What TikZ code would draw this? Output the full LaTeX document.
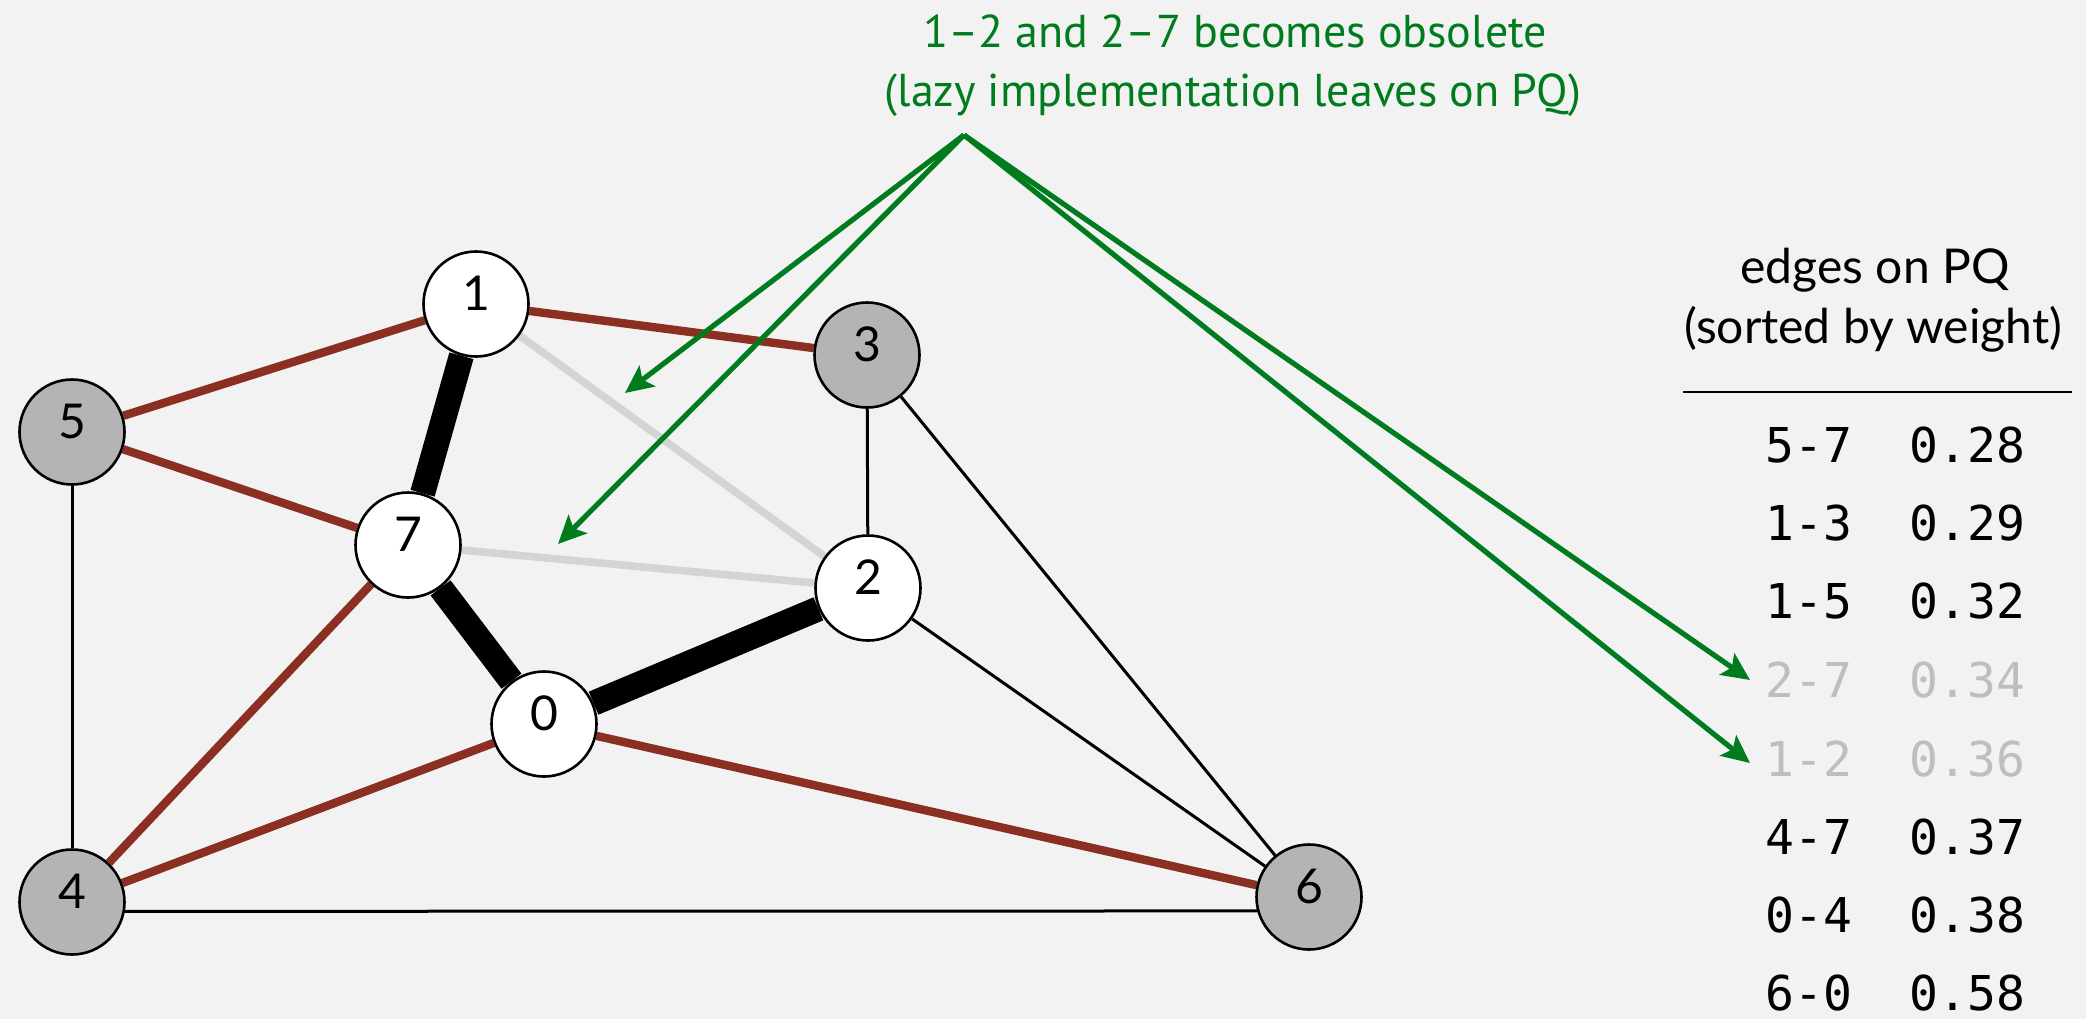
\documentclass[tikz,border=0pt]{standalone}
\usepackage{fontspec}
\setmainfont{Lato}
\newfontfamily\greenfont{PT Sans}
\newfontfamily\tablemono{DejaVu Sans Mono}
\usetikzlibrary{arrows.meta}
\pgfdeclarelayer{bglayer}
\pgfdeclarelayer{edgelayer}
\pgfsetlayers{bglayer,edgelayer,main}
\definecolor{bg}{RGB}{242,242,242}
\definecolor{mstred}{RGB}{139,47,35}
\definecolor{notegreen}{RGB}{0,124,30}
\definecolor{vgray}{RGB}{180,180,180}
\definecolor{obsgray}{RGB}{212,212,212}
\definecolor{tabgray}{RGB}{190,190,190}
\tikzset{
  vert/.style={circle, draw=black, line width=1.3pt, minimum size=52.5pt, inner sep=0pt, fill=white},
  pqvert/.style={vert, fill=vgray},
  vlabel/.style={yshift=5.5pt, font=\fontsize{24pt}{28pt}\selectfont, inner sep=0pt},
  treeedge/.style={line width=12.5pt, black},
  pqedge/.style={line width=4.2pt, mstred},
  obsedge/.style={line width=3.8pt, obsgray},
  plainedge/.style={line width=1.5pt, black},
  note/.style={text=notegreen, font=\greenfont\fontsize{23pt}{27pt}\selectfont, anchor=base, inner sep=0pt},
  notearrow/.style={notegreen, line width=2.6pt, -{Stealth[length=14pt, width=13pt, inset=3pt]}},
  tabhead/.style={font=\fontsize{24pt}{28pt}\selectfont, anchor=base, inner sep=0pt},
  tabcell/.style={font=\tablemono\fontsize{24pt}{28pt}\selectfont, anchor=base west, inner sep=0pt},
  tabcellgray/.style={tabcell, text=tabgray}
}
\begin{document}
\begin{tikzpicture}[x=0.5pt, y=-0.5pt]
\begin{pgfonlayer}{bglayer}
\fill[bg] (0,0) rectangle (2086,1019);
\end{pgfonlayer}
\useasboundingbox (0,0) rectangle (2086,1019);

% vertices
\node[vert,   label={[vlabel]center:0}] (v0) at (544,724) {};
\node[vert,   label={[vlabel]center:1}] (v1) at (476,304) {};
\node[vert,   label={[vlabel]center:2}] (v2) at (868,588) {};
\node[pqvert, label={[vlabel]center:3}] (v3) at (867,355) {};
\node[pqvert, label={[vlabel]center:4}] (v4) at (72,902) {};
\node[pqvert, label={[vlabel]center:5}] (v5) at (72,432) {};
\node[pqvert, label={[vlabel]center:6}] (v6) at (1309,897) {};
\node[vert,   label={[vlabel]center:7}] (v7) at (408,545) {};

% edges (behind vertices)
\begin{pgfonlayer}{edgelayer}
\draw[plainedge] (v5) -- (v4);
\draw[plainedge] (v4.-10) -- (v6.-165);
\draw[plainedge] (v3) -- (v2);
\draw[plainedge] (v3) -- (v6);
\draw[plainedge] (v2) -- (v6);
\draw[obsedge] (v1) -- (v2);
\draw[obsedge] (v7) -- (v2);
\draw[pqedge] (v1) -- (v5);
\draw[pqedge] (v1) -- (v3);
\draw[pqedge] (v5) -- (v7);
\draw[pqedge] (v7) -- (v4);
\draw[pqedge] (v4) -- (v0);
\draw[pqedge] (v0) -- (v6);
\draw[treeedge] (v1) -- (v7);
\draw[treeedge] (v7) -- (v0);
\draw[treeedge] (v0) -- (v2);
\end{pgfonlayer}

% note
\node[note] (noteA) at (1235,47) {1–2 and 2–7 becomes obsolete};
\node[note] (noteB) at (1233,106) {(lazy implementation leaves on PQ)};
\coordinate (apex) at (964,135);
\coordinate (t1) at (625,393);
\coordinate (t2) at (558,544);
\coordinate (t3) at (1750,680);
\coordinate (t4) at (1750,763);
\draw[notearrow] (apex) -- (t1);
\draw[notearrow] (apex) -- (t2);
\draw[notearrow] (apex) -- (t3);
\draw[notearrow] (apex) -- (t4);

% table
\node[tabhead] (th1) at (1875,283) {edges on PQ};
\node[tabhead] (th2) at (1873,343) {(sorted by weight)};
\coordinate (ruleL) at (1683,392);
\coordinate (ruleR) at (2072,392);
\draw[line width=1.4pt] (ruleL) -- (ruleR);

\node[tabcell] (e1a) at (1765,462) {5-7};  \node[tabcell] (e1b) at (1909,462) {0.28};
\node[tabcell] (e2a) at (1765,540) {1-3};  \node[tabcell] (e2b) at (1909,540) {0.29};
\node[tabcell] (e3a) at (1765,618) {1-5};  \node[tabcell] (e3b) at (1909,618) {0.32};
\node[tabcellgray] (e4a) at (1765,697) {2-7};  \node[tabcellgray] (e4b) at (1909,697) {0.34};
\node[tabcellgray] (e5a) at (1765,776) {1-2};  \node[tabcellgray] (e5b) at (1909,776) {0.36};
\node[tabcell] (e6a) at (1765,854) {4-7};  \node[tabcell] (e6b) at (1909,854) {0.37};
\node[tabcell] (e7a) at (1765,932) {0-4};  \node[tabcell] (e7b) at (1909,932) {0.38};
\node[tabcell] (e8a) at (1765,1010) {6-0};  \node[tabcell] (e8b) at (1909,1010) {0.58};
\end{tikzpicture}
\end{document}
